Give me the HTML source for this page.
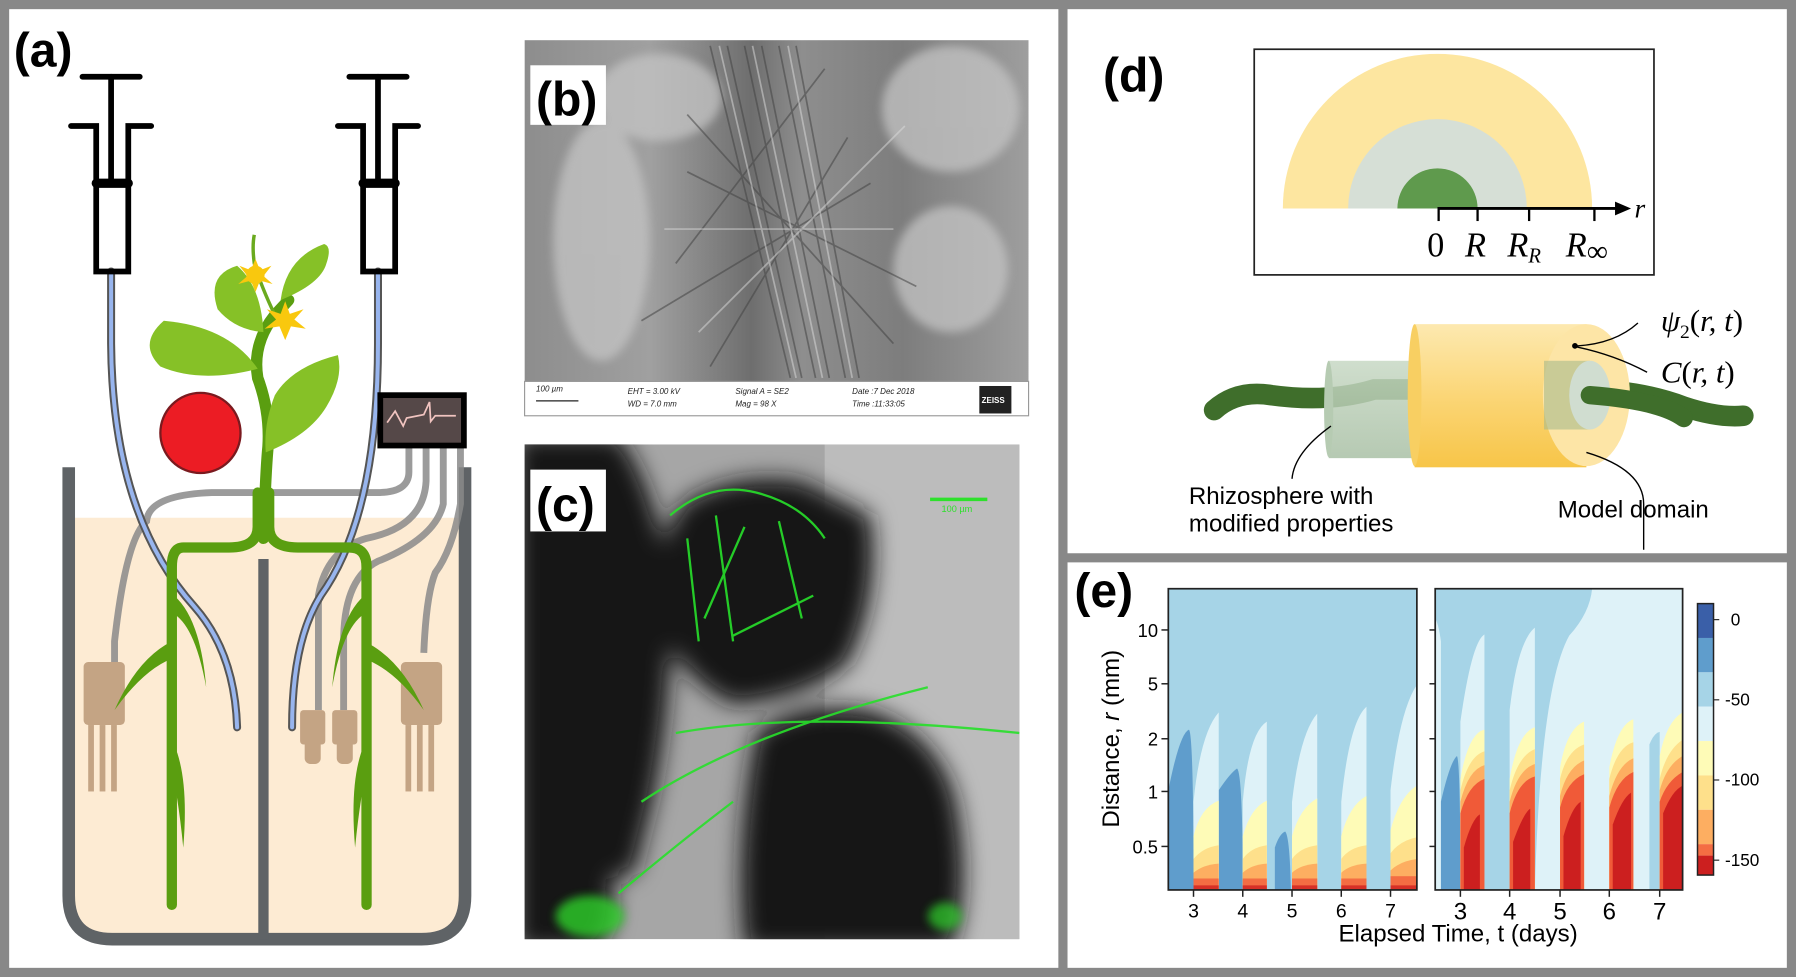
<!DOCTYPE html>
<html><head><meta charset="utf-8"><style>
html,body{margin:0;padding:0;background:#fff}
svg{display:block}
</style></head><body>
<svg width="1796" height="977" viewBox="0 0 1568 853" preserveAspectRatio="none" xmlns="http://www.w3.org/2000/svg" font-family="Liberation Sans, sans-serif">
<defs>
<linearGradient id="bg1" x1="0" x2="1" y1="0" y2="0">
<stop offset="0" stop-color="#8d8d8d"/><stop offset="0.25" stop-color="#a0a0a0"/><stop offset="0.45" stop-color="#6e6e6e"/><stop offset="0.55" stop-color="#8e8e8e"/><stop offset="0.75" stop-color="#7d7d7d"/><stop offset="1" stop-color="#9e9e9e"/>
</linearGradient>
<filter id="bl" x="-30%" y="-30%" width="160%" height="160%"><feGaussianBlur stdDeviation="10"/></filter>
<filter id="bl2" x="-30%" y="-30%" width="160%" height="160%"><feGaussianBlur stdDeviation="4"/></filter>
<linearGradient id="cyl" x1="0" x2="0" y1="0" y2="1"><stop offset="0" stop-color="#fde9b0"/><stop offset="0.5" stop-color="#fbd677"/><stop offset="1" stop-color="#f7c548"/></linearGradient>
<linearGradient id="rh" x1="0" x2="0" y1="0" y2="1"><stop offset="0" stop-color="#c7d8c4"/><stop offset="1" stop-color="#a9c0a5"/></linearGradient>
<clipPath id="cL"><rect x="1020" y="514" width="217" height="263"/></clipPath>
<clipPath id="cR"><rect x="1253" y="514" width="216" height="263"/></clipPath>
<clipPath id="cB"><rect x="458" y="35" width="440" height="298"/></clipPath>
<clipPath id="cC"><rect x="458" y="388" width="432" height="432"/></clipPath>
</defs>
<rect width="1568" height="853" fill="#fff"/>
<rect x="4" y="4" width="1560" height="845" fill="none" stroke="#888" stroke-width="8"/>
<line x1="928" y1="4" x2="928" y2="849" stroke="#888" stroke-width="8"/>
<line x1="928" y1="487" x2="1564" y2="487" stroke="#888" stroke-width="8"/>

<!-- (a) -->
<text x="12" y="58" font-size="42" font-weight="bold">(a)</text>
<path d="M62 452 H404 V780 Q404 818 366 818 H100 Q62 818 62 780 Z" fill="#fdebd3"/>
<path d="M60 408 V782 Q60 820 98 820 H368 Q406 820 406 782 V408" fill="none" stroke="#5f6366" stroke-width="11"/>
<line x1="230" y1="488" x2="230" y2="820" stroke="#5f6366" stroke-width="9"/>
<g fill="none" stroke="#8a8a8a" stroke-width="6" stroke-opacity="0.85">
<path d="M357 390 V412 Q357 430 330 430 H185 Q130 432 128 455 Q110 470 100 560 V590"/>
<path d="M372 390 V420 Q370 460 320 470 Q285 480 278 520 V620"/>
<path d="M387 390 V440 Q380 470 330 490 Q300 505 300 560 V620"/>
<path d="M402 390 V440 Q395 480 380 500 Q372 520 370 570"/>
</g>
<g fill="#c4a484">
<rect x="73" y="578" width="36" height="55" rx="4"/><rect x="77" y="633" width="5" height="58"/><rect x="87" y="633" width="5" height="58"/><rect x="97" y="633" width="5" height="58"/>
<rect x="350" y="578" width="36" height="55" rx="4"/><rect x="354" y="633" width="5" height="58"/><rect x="364" y="633" width="5" height="58"/><rect x="374" y="633" width="5" height="58"/>
<rect x="262" y="620" width="22" height="30" rx="3"/><rect x="266" y="645" width="14" height="22" rx="5"/>
<rect x="290" y="620" width="22" height="30" rx="3"/><rect x="294" y="645" width="14" height="22" rx="5"/>
</g>
<g fill="none" stroke-linecap="round">
<path d="M97 237 V300 Q98 450 170 530 Q205 570 207 635" stroke="#555" stroke-width="7"/>
<path d="M97 237 V300 Q98 450 170 530 Q205 570 207 635" stroke="#98b5ee" stroke-width="3.5"/>
<path d="M330 237 V300 Q330 450 280 520 Q255 560 255 635" stroke="#555" stroke-width="7"/>
<path d="M330 237 V300 Q330 450 280 520 Q255 560 255 635" stroke="#98b5ee" stroke-width="3.5"/>
</g>
<g fill="none" stroke="#000" stroke-width="5" stroke-linecap="round">
<line x1="72" y1="67" x2="122" y2="67"/><line x1="97" y1="67" x2="97" y2="158"/>
<path d="M62 110 H84 V237 H112 V110 H132"/><line x1="84" y1="160" x2="112" y2="160" stroke-width="8"/>
<line x1="305" y1="67" x2="355" y2="67"/><line x1="330" y1="67" x2="330" y2="158"/>
<path d="M295 110 H317 V237 H345 V110 H365"/><line x1="317" y1="160" x2="345" y2="160" stroke-width="8"/>
</g>
<g fill="none" stroke="#5a9e10" stroke-width="9" stroke-linecap="round">
<path d="M225 430 V460 Q225 478 200 478 H160 Q150 478 150 495 V790"/>
<path d="M235 430 V460 Q235 478 260 478 H305 Q320 478 320 495 V790"/>
</g>
<g fill="#5a9e10">
<path d="M150 560 Q120 575 100 620 Q125 585 150 575Z"/>
<path d="M152 520 Q175 540 180 600 Q170 545 150 535Z"/>
<path d="M152 650 Q165 680 160 740 Q155 690 148 665Z"/>
<path d="M318 560 Q350 575 370 620 Q345 585 318 575Z"/>
<path d="M318 520 Q295 540 290 600 Q300 545 320 535Z"/>
<path d="M318 650 Q305 680 310 740 Q315 690 322 665Z"/>
</g>
<path d="M230 470 Q232 410 234 390 Q236 360 225 330 Q220 300 240 275 L252 262" fill="none" stroke="#5a9e10" stroke-width="10" stroke-linecap="round"/>
<path d="M240 275 Q228 250 222 230 Q220 215 222 205" fill="none" stroke="#6aaa1e" stroke-width="3"/>
<g fill="#86c127">
<path d="M143 280 Q120 300 140 320 Q175 335 225 322 Q200 285 143 280Z"/>
<path d="M207 232 Q180 240 190 270 Q205 288 230 290 Q228 250 207 232Z"/>
<path d="M283 213 Q250 225 245 262 Q280 248 285 230 Q290 215 283 213Z"/>
<path d="M295 310 Q255 320 240 345 Q230 370 232 395 Q270 380 285 355 Q300 330 295 310Z"/>
</g>
<g fill="#f9c80e">
<circle cx="223" cy="240" r="8"/><path d="M223 226 L227 236 L237 232 L230 241 L238 248 L227 245 L223 255 L219 245 L208 248 L216 241 L209 232 L219 236Z"/>
<path d="M249 263 L253 274 L265 270 L257 279 L267 287 L254 285 L249 297 L244 285 L231 287 L241 279 L233 270 L245 274Z"/>
</g>
<circle cx="175" cy="378" r="35" fill="#ec1c24" stroke="#7a1a1f" stroke-width="2"/>
<rect x="332" y="345" width="73" height="44" fill="#554848" stroke="#000" stroke-width="5"/>
<path d="M338 369 L345 359 L352 372 L355 365 L370 362 L375 351 L376 368 L380 363 H398" fill="none" stroke="#f1c4c0" stroke-width="1.5"/>

<!-- (b) SEM -->
<g clip-path="url(#cB)">
<rect x="458" y="35" width="440" height="298" fill="url(#bg1)"/>
<g fill="#c4c4c4" opacity="0.75" filter="url(#bl2)">
<ellipse cx="525" cy="210" rx="42" ry="105"/><ellipse cx="830" cy="95" rx="60" ry="55"/><ellipse cx="830" cy="235" rx="50" ry="55"/><ellipse cx="575" cy="85" rx="55" ry="38"/>
</g>
<g stroke="#444" stroke-width="1.5" opacity="0.55">
<line x1="620" y1="40" x2="690" y2="330"/><line x1="635" y1="40" x2="700" y2="330"/><line x1="650" y1="40" x2="712" y2="330"/><line x1="665" y1="40" x2="724" y2="330"/><line x1="680" y1="40" x2="738" y2="330"/><line x1="695" y1="40" x2="750" y2="330"/>
<line x1="600" y1="150" x2="800" y2="250"/><line x1="560" y1="280" x2="760" y2="160"/><line x1="600" y1="100" x2="780" y2="300"/><line x1="590" y1="230" x2="720" y2="60"/><line x1="740" y1="120" x2="620" y2="320"/>
</g>
<g stroke="#ddd" stroke-width="1.5" opacity="0.5">
<line x1="628" y1="40" x2="695" y2="330"/><line x1="657" y1="40" x2="718" y2="330"/><line x1="688" y1="40" x2="744" y2="330"/><line x1="580" y1="200" x2="780" y2="200"/><line x1="610" y1="290" x2="790" y2="110"/>
</g>
</g>
<rect x="458" y="333" width="440" height="30" fill="#fff" stroke="#999" stroke-width="1"/>
<g font-size="7" fill="#222" font-style="italic">
<text x="468" y="342">100 µm</text><text x="548" y="344">EHT =  3.00 kV</text><text x="548" y="355">WD =  7.0 mm</text>
<text x="642" y="344">Signal A = SE2</text><text x="642" y="355">Mag =     98 X</text>
<text x="744" y="344">Date :7 Dec 2018</text><text x="744" y="355">Time :11:33:05</text>
</g>
<line x1="468" y1="350" x2="505" y2="350" stroke="#222"/>
<rect x="855" y="337" width="28" height="24" fill="#222"/><text x="857" y="352" font-size="7" fill="#fff" font-weight="bold">ZEISS</text>
<rect x="463" y="57" width="66" height="52" fill="#fff"/>
<text x="468" y="101" font-size="42" font-weight="bold">(b)</text>

<!-- (c) confocal -->
<g clip-path="url(#cC)">
<rect x="458" y="388" width="432" height="432" fill="#a6a6a6"/>
<rect x="720" y="388" width="170" height="432" fill="#bcbcbc"/>
<g filter="url(#bl)" fill="#141414">
<path d="M450 380 H540 Q570 420 585 500 Q590 600 570 700 L555 760 Q520 780 470 760 L450 760Z"/>
<path d="M595 440 Q640 410 700 420 L760 450 Q770 520 740 580 Q700 610 640 615 Q590 590 575 540 Q570 480 595 440Z"/>
<path d="M660 640 Q700 610 760 620 Q820 640 835 700 Q850 780 830 830 L650 830 Q640 740 660 640Z"/>
<path d="M450 740 Q490 720 530 760 Q545 800 520 830 H450Z"/>
</g>
<g stroke="#27e02a" stroke-width="2" fill="none" opacity="0.9">
<path d="M585 450 Q620 420 660 430 Q700 440 720 470"/><path d="M600 470 L610 560"/><path d="M625 450 L640 560"/><path d="M650 460 L615 540"/><path d="M680 455 L700 540"/><path d="M640 555 L710 520"/>
<path d="M560 700 Q650 640 810 600"/><path d="M590 640 Q700 620 890 640"/><path d="M540 780 Q600 730 640 700"/>
</g>
<ellipse cx="515" cy="800" rx="30" ry="18" fill="#2ed12a" opacity="0.8" filter="url(#bl2)"/>
<ellipse cx="825" cy="800" rx="15" ry="12" fill="#2ed12a" opacity="0.7" filter="url(#bl2)"/>
</g>
<line x1="812" y1="436" x2="862" y2="436" stroke="#2ee02c" stroke-width="3"/>
<text x="822" y="447" font-size="8" fill="#2ee02c">100 µm</text>
<rect x="463" y="410" width="66" height="54" fill="#fff"/>
<text x="468" y="455" font-size="42" font-weight="bold">(c)</text>

<!-- (d) -->
<text x="963" y="80" font-size="42" font-weight="bold">(d)</text>
<rect x="1095" y="43" width="349" height="197" fill="#fff" stroke="#222" stroke-width="1.5"/>
<path d="M1120 182 A135 135 0 0 1 1390 182 Z" fill="#fde6a0"/>
<path d="M1177 182 A78 78 0 0 1 1333 182 Z" fill="#d6dfd6"/>
<path d="M1220 182 A35 35 0 0 1 1290 182 Z" fill="#5f9a4d"/>
<line x1="1255" y1="182" x2="1414" y2="182" stroke="#000" stroke-width="2.5"/>
<path d="M1424 182 L1410 176 L1410 188Z"/>
<g stroke="#000" stroke-width="2"><line x1="1256" y1="182" x2="1256" y2="193"/><line x1="1290" y1="182" x2="1290" y2="193"/><line x1="1335" y1="182" x2="1335" y2="193"/><line x1="1392" y1="182" x2="1392" y2="193"/></g>
<text x="1427" y="190" font-family="Liberation Serif, serif" font-style="italic" font-size="24">r</text>
<g font-family="Liberation Serif, serif" font-size="30">
<text x="1246" y="224">0</text><text x="1279" y="224" font-style="italic">R</text>
<text x="1316" y="224" font-style="italic">R<tspan font-size="18" dy="5">R</tspan></text>
<text x="1367" y="224" font-style="italic">R<tspan font-style="normal" font-size="26" dy="4">∞</tspan></text>
</g>
<path d="M1060 358 Q1080 340 1110 345 Q1160 352 1200 340 H1380 Q1430 340 1470 355 Q1500 365 1522 363" fill="none" stroke="#3f6e2b" stroke-width="18" stroke-linecap="round"/>
<rect x="1160" y="315" width="80" height="85" fill="url(#rh)" opacity="0.85"/>
<ellipse cx="1160" cy="357" rx="4" ry="42" fill="#b6cbb2"/>
<rect x="1235" y="283" width="150" height="125" fill="url(#cyl)"/>
<ellipse cx="1235" cy="345" rx="6" ry="62" fill="#f8cf62"/>
<ellipse cx="1385" cy="345" rx="38" ry="62" fill="#fde5a6"/>
<rect x="1348" y="315" width="40" height="60" fill="#a7b98c" opacity="0.6"/>
<ellipse cx="1388" cy="345" rx="18" ry="30" fill="#d0ddd0"/>
<path d="M1388 345 Q1450 350 1470 365" fill="none" stroke="#3f6e2b" stroke-width="16" stroke-linecap="round"/>
<circle cx="1375" cy="302" r="2.5"/>
<g fill="none" stroke="#000" stroke-width="1.2">
<path d="M1377 302 Q1410 300 1430 282"/><path d="M1377 303 Q1410 310 1438 325"/>
<path d="M1128 418 Q1130 395 1162 372"/><path d="M1435 480 V440 Q1435 410 1385 395"/>
</g>
<g font-family="Liberation Serif, serif" font-style="italic" font-size="27">
<text x="1450" y="289">ψ<tspan font-style="normal" font-size="17" dy="6">2</tspan><tspan dy="-6" font-style="normal">(</tspan>r, t<tspan font-style="normal">)</tspan></text>
<text x="1450" y="334">C<tspan font-style="normal">(</tspan>r, t<tspan font-style="normal">)</tspan></text>
</g>
<g font-size="21"><text x="1038" y="440">Rhizosphere with</text><text x="1038" y="464">modified properties</text><text x="1360" y="452">Model domain</text></g>

<!-- (e) -->
<text x="938" y="530" font-size="42" font-weight="bold">(e)</text>
<g clip-path="url(#cL)">
<rect x="1020" y="514" width="217" height="263" fill="#a6d4e7"/>
<path d="M1020 777 V690 Q1030 640 1038 637 Q1042 640 1042 777Z" fill="#5f9dcc"/>
<path d="M1064 777 V690 Q1074 675 1080 671 Q1085 675 1085 777Z" fill="#5f9dcc"/>
<path d="M1113 777 V740 Q1117 728 1122 726 Q1126 730 1127 777Z" fill="#5f9dcc"/>
<g fill="#def2f8">
<path d="M1042 777 V700 Q1048 640 1064 622 V777Z"/><path d="M1085 777 V700 Q1090 640 1106 630 V777Z"/>
<path d="M1128 777 V700 Q1135 640 1150 623 V777Z"/><path d="M1171 777 V700 Q1178 630 1193 617 V777Z"/><path d="M1214 777 V690 Q1222 620 1237 598 V777Z"/>
</g>
<g fill="#fefbb7"><path d="M1042 777 V730 Q1048 705 1064 699 V777Z"/><path d="M1085 777 V730 Q1092 705 1106 699 V777Z"/><path d="M1128 777 V730 Q1135 705 1150 697 V777Z"/><path d="M1171 777 V730 Q1178 703 1193 695 V777Z"/><path d="M1214 777 V725 Q1222 695 1237 686 V777Z"/></g>
<g fill="#fee08b"><path d="M1042 777 V750 Q1050 740 1064 738 V777Z"/><path d="M1085 777 V750 Q1092 740 1106 738 V777Z"/><path d="M1128 777 V750 Q1135 740 1150 738 V777Z"/><path d="M1171 777 V750 Q1178 740 1193 738 V777Z"/><path d="M1214 777 V745 Q1222 734 1237 731 V777Z"/></g>
<g fill="#fdae61"><path d="M1042 777 V762 Q1050 755 1064 754 V777Z"/><path d="M1085 777 V762 Q1092 755 1106 754 V777Z"/><path d="M1128 777 V762 Q1135 755 1150 754 V777Z"/><path d="M1171 777 V762 Q1178 755 1193 754 V777Z"/><path d="M1214 777 V760 Q1222 752 1237 750 V777Z"/></g>
<g fill="#f46d43"><rect x="1042" y="767" width="22" height="10"/><rect x="1085" y="767" width="21" height="10"/><rect x="1128" y="767" width="22" height="10"/><rect x="1171" y="767" width="22" height="10"/><rect x="1214" y="765" width="23" height="12"/></g>
<g fill="#d73027"><rect x="1042" y="773" width="22" height="4"/><rect x="1085" y="773" width="21" height="4"/><rect x="1128" y="773" width="22" height="4"/><rect x="1171" y="773" width="22" height="4"/><rect x="1214" y="773" width="23" height="4"/></g>
</g>
<rect x="1020" y="514" width="217" height="263" fill="none" stroke="#222" stroke-width="1.5"/>
<g clip-path="url(#cR)">
<rect x="1253" y="514" width="216" height="263" fill="#def2f8"/>
<path d="M1253 514 H1390 Q1388 535 1370 555 Q1345 600 1340 777 H1253Z" fill="#a6d4e7"/>
<path d="M1385 777 V650 Q1400 590 1406 579 Q1410 590 1414 777Z" fill="#def2f8"/>
<path d="M1253 777 V540 Q1256 545 1258 560 V777Z" fill="#def2f8"/>
<path d="M1275 777 V630 Q1285 560 1296 554 V777Z" fill="#def2f8"/>
<path d="M1318 777 V620 Q1325 560 1340 548 V777Z" fill="#def2f8"/>
<path d="M1362 777 V630 Q1368 590 1383 570 V777Z" fill="#def2f8"/>
<path d="M1405 777 V640 Q1412 600 1426 590 V777Z" fill="#def2f8"/>
<path d="M1440 777 V650 Q1444 640 1449 639 V777Z" fill="#a6d4e7"/>
<path d="M1258 777 V700 Q1266 665 1272 660 Q1275 665 1275 777Z" fill="#5f9dcc"/>
<g fill="#fefbb7"><path d="M1275 777 V680 Q1282 640 1296 637 V777Z"/><path d="M1318 777 V680 Q1325 640 1340 635 V777Z"/><path d="M1362 777 V670 Q1368 636 1383 630 V777Z"/><path d="M1405 777 V670 Q1412 633 1426 628 V777Z"/><path d="M1449 777 V660 Q1455 630 1469 622 V777Z"/></g>
<g fill="#fee08b"><path d="M1275 777 V690 Q1282 660 1296 656 V777Z"/><path d="M1318 777 V690 Q1325 660 1340 654 V777Z"/><path d="M1362 777 V680 Q1368 655 1383 650 V777Z"/><path d="M1405 777 V680 Q1412 652 1426 648 V777Z"/><path d="M1449 777 V680 Q1455 655 1469 646 V777Z"/></g>
<g fill="#fdae61"><path d="M1275 777 V700 Q1282 672 1296 668 V777Z"/><path d="M1318 777 V700 Q1325 672 1340 667 V777Z"/><path d="M1362 777 V695 Q1368 670 1383 664 V777Z"/><path d="M1405 777 V695 Q1412 668 1426 662 V777Z"/><path d="M1449 777 V690 Q1455 668 1469 660 V777Z"/></g>
<g fill="#f05a38"><path d="M1275 777 V710 Q1282 685 1296 680 V777Z"/><path d="M1318 777 V710 Q1325 682 1340 678 V777Z"/><path d="M1362 777 V705 Q1368 682 1383 676 V777Z"/><path d="M1405 777 V705 Q1412 680 1426 674 V777Z"/><path d="M1449 777 V700 Q1455 682 1469 674 V777Z"/></g>
<g fill="#cc1f1f"><path d="M1278 777 V740 Q1285 715 1292 711 V777Z"/><path d="M1321 777 V735 Q1330 710 1336 706 V777Z"/><path d="M1365 777 V730 Q1372 705 1380 700 V777Z"/><path d="M1408 777 V720 Q1416 697 1424 692 V777Z"/><path d="M1452 777 V710 Q1460 690 1469 686 V777Z"/></g>
</g>
<rect x="1253" y="514" width="216" height="263" fill="none" stroke="#222" stroke-width="1.5"/>
<g stroke="#222" stroke-width="1.3">
<line x1="1014" y1="550" x2="1020" y2="550"/><line x1="1014" y1="597" x2="1020" y2="597"/><line x1="1014" y1="645" x2="1020" y2="645"/><line x1="1014" y1="691" x2="1020" y2="691"/><line x1="1014" y1="739" x2="1020" y2="739"/>
<line x1="1248" y1="550" x2="1253" y2="550"/><line x1="1248" y1="597" x2="1253" y2="597"/><line x1="1248" y1="645" x2="1253" y2="645"/><line x1="1248" y1="691" x2="1253" y2="691"/><line x1="1248" y1="739" x2="1253" y2="739"/>
<line x1="1042" y1="777" x2="1042" y2="783"/><line x1="1085" y1="777" x2="1085" y2="783"/><line x1="1128" y1="777" x2="1128" y2="783"/><line x1="1171" y1="777" x2="1171" y2="783"/><line x1="1214" y1="777" x2="1214" y2="783"/>
<line x1="1275" y1="777" x2="1275" y2="783"/><line x1="1318" y1="777" x2="1318" y2="783"/><line x1="1362" y1="777" x2="1362" y2="783"/><line x1="1405" y1="777" x2="1405" y2="783"/><line x1="1449" y1="777" x2="1449" y2="783"/>
</g>
<g font-size="16" text-anchor="end"><text x="1011" y="556">10</text><text x="1011" y="603">5</text><text x="1011" y="651">2</text><text x="1011" y="697">1</text><text x="1011" y="745">0.5</text></g>
<g font-size="17" text-anchor="middle"><text x="1042" y="801">3</text><text x="1085" y="801">4</text><text x="1128" y="801">5</text><text x="1171" y="801">6</text><text x="1214" y="801">7</text>
<text x="1275" y="803" font-size="21">3</text><text x="1318" y="803" font-size="21">4</text><text x="1362" y="803" font-size="21">5</text><text x="1405" y="803" font-size="21">6</text><text x="1449" y="803" font-size="21">7</text></g>
<text x="1273" y="822" font-size="21" text-anchor="middle">Elapsed Time, t (days)</text>
<text transform="translate(977 645) rotate(-90)" font-size="21" text-anchor="middle">Distance, <tspan font-style="italic">r</tspan> (mm)</text>
<g>
<rect x="1482" y="527" width="14" height="30" fill="#3a5fa8"/><rect x="1482" y="557" width="14" height="30" fill="#5f9dcc"/>
<rect x="1482" y="587" width="14" height="30" fill="#a6d4e7"/><rect x="1482" y="617" width="14" height="30" fill="#def2f8"/>
<rect x="1482" y="647" width="14" height="30" fill="#fefbb7"/><rect x="1482" y="677" width="14" height="30" fill="#fee08b"/>
<rect x="1482" y="707" width="14" height="30" fill="#fdae61"/><rect x="1482" y="737" width="14" height="10" fill="#f46d43"/>
<rect x="1482" y="747" width="14" height="17" fill="#cc1f1f"/>
<rect x="1482" y="527" width="14" height="237" fill="none" stroke="#222" stroke-width="1.3"/>
</g>
<g stroke="#222"><line x1="1496" y1="541" x2="1501" y2="541"/><line x1="1496" y1="611" x2="1501" y2="611"/><line x1="1496" y1="681" x2="1501" y2="681"/><line x1="1496" y1="751" x2="1501" y2="751"/></g>
<g font-size="15"><text x="1511" y="546">0</text><text x="1506" y="616">-50</text><text x="1506" y="686">-100</text><text x="1506" y="756">-150</text></g>
</svg>
</body></html>
